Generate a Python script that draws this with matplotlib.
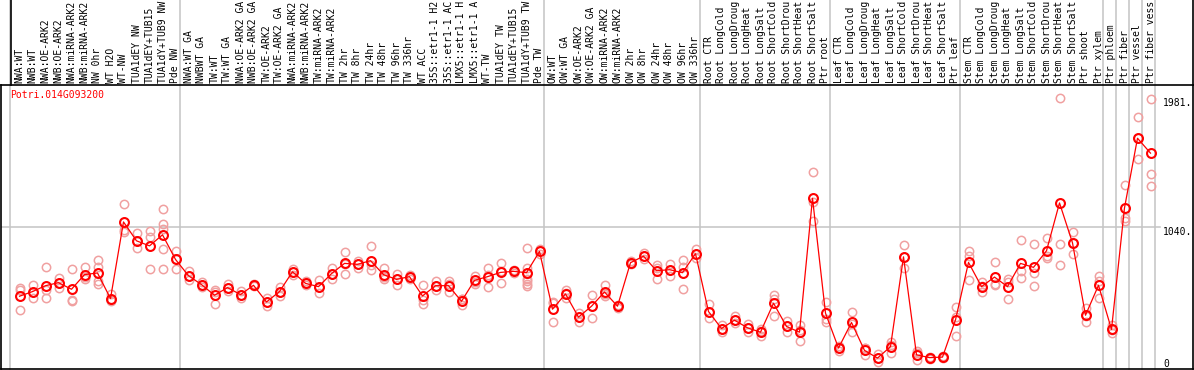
import matplotlib
matplotlib.use('Agg')
import matplotlib.pyplot as plt
import matplotlib.transforms as mtransforms

# Sample names, in plotting order (as far as they show in the label strip)
samples = [
    'NWA:WT', 'NWB:WT', 'NWA:OE-ARK2', 'NWB:OE-ARK2', 'NWA:miRNA-ARK2', 'NWB:miRNA-ARK2',
    'NW 0hr', 'WT H2O', 'WT-NW', 'TUA1dEY NW', 'TUA1dEY+TUB15', 'TUA1dY+TUB9 NW', 'Pde NW',
    'NWA:WT GA', 'NWBWT GA', 'TW:WT', 'TW:WT GA', 'NWA:OE-ARK2 GA', 'NWB:OE-ARK2 GA',
    'TW:OE-ARK2', 'TW:OE-ARK2 GA', 'NWA:miRNA-ARK2', 'NWB:miRNA-ARK2', 'TW:miRNA-ARK2',
    'TW:miRNA-ARK2', 'TW 2hr', 'TW 8hr', 'TW 24hr', 'TW 48hr', 'TW 96hr', 'TW 336hr', 'WT ACC',
    '35S::etr1-1 H2', '35S::etr1-1 AC', 'LMX5::etr1-1 H', 'LMX5::etr1-1 A', 'WT-TW',
    'TUA1dEY TW', 'TUA1dEY+TUB15', 'TUA1dY+TUB9 TW', 'Pde TW',
    'OW:WT', 'OW:WT GA', 'OW:OE-ARK2', 'OW:OE-ARK2 GA', 'OW:miRNA-ARK2', 'OW:miRNA-ARK2',
    'OW 2hr', 'OW 8hr', 'OW 24hr', 'OW 48hr', 'OW 96hr', 'OW 336hr',
    'Root CTR', 'Root LongCold', 'Root LongDroug', 'Root LongHeat', 'Root LongSalt',
    'Root ShortCold', 'Root ShortDrou', 'Root ShortHeat', 'Root ShortSalt', 'Ptr root',
    'Leaf CTR', 'Leaf LongCold', 'Leaf LongDroug', 'Leaf LongHeat', 'Leaf LongSalt',
    'Leaf ShortCold', 'Leaf ShortDrou', 'Leaf ShortHeat', 'Leaf ShortSalt', 'Ptr leaf',
    'Stem CTR', 'Stem LongCold', 'Stem LongDroug', 'Stem LongHeat', 'Stem LongSalt',
    'Stem ShortCold', 'Stem ShortDrou', 'Stem ShortHeat', 'Stem ShortSalt', 'Ptr shoot',
    'Ptr xylem', 'Ptr phloem', 'Ptr fiber', 'Ptr vessel', 'Ptr fiber vess',
]

# Mean expression per sample
means = [
    532, 566, 609, 631, 583, 690, 702, 515, 1075, 937, 900, 981, 801,
    682, 617, 539, 595, 544, 612, 490, 566, 711, 626, 602, 697, 772, 765, 792, 690,
    655, 675, 534, 609, 609, 495, 648, 675, 706, 714, 704, 859,
    437, 549, 379, 459, 563, 459, 777, 825, 718, 726, 704, 843,
    420, 296, 357, 301, 269, 481, 311, 269, 1248, 408,
    153, 340, 136, 80, 163, 820, 104, 83, 87, 359,
    779, 602, 672, 602, 772, 743, 864, 1214, 922, 393,
    612, 289, 1178, 1687, 1578,
]

# Replicate values per sample
replicates = [
    [590, 578, 428], [612, 566, 519], [743, 578, 517], [668, 631, 590], [733, 507, 497],
    [743, 672, 655], [799, 743, 645, 624], [551, 507, 497], [1207, 1015, 1003],
    [996, 937, 886], [1012, 964, 733], [1170, 1063, 1027, 879, 733], [864, 801, 733],
    [716, 682, 651], [636, 617, 597], [578, 560, 478], [621, 595, 570], [570, 544, 517],
    [619, 612, 605], [522, 490, 460], [597, 566, 534], [733, 711, 689], [640, 626, 612],
    [648, 602, 558], [736, 697, 660], [857, 765, 695], [789, 770, 736], [901, 757, 723],
    [740, 675, 655], [694, 657, 614], [690, 675, 660], [617, 507, 478], [641, 610, 575],
    [641, 623, 563], [510, 510, 466], [682, 638, 624], [740, 686, 599], [774, 713, 631],
    [723, 720, 699], [886, 736, 700, 660, 640, 620, 607], [880, 859, 838],
    [490, 480, 340], [575, 553, 519], [413, 379, 345], [539, 462, 376], [612, 545, 532],
    [470, 459, 448], [790, 777, 764], [848, 825, 801], [760, 740, 655], [770, 726, 682],
    [794, 743, 588], [879, 843, 813],
    [473, 420, 376], [320, 296, 272], [388, 357, 335], [330, 301, 274], [289, 275, 243],
    [541, 511, 391], [352, 314, 267], [320, 285, 202], [1439, 1220, 1085], [493, 369, 347],
    [170, 156, 133], [420, 331, 269], [153, 151, 104], [109, 78, 53], [194, 175, 119],
    [903, 820, 737], [129, 115, 68], [90, 83, 76], [95, 87, 79], [456, 381, 240],
    [864, 825, 648], [636, 604, 566], [779, 625, 612], [655, 636, 510], [940, 716, 668],
    [915, 699, 609], [961, 825, 813], [1979, 915, 757], [1005, 920, 842], [444, 390, 347],
    [677, 641, 517], [323, 285, 260], [1347, 1107, 1080], [1840, 1687, 1535],
    [1974, 1425, 1338],
]

# last sample index of each block (separator drawn right after it)
group_ends = [12, 40, 52, 62, 72, 83, 84, 85, 86, 87]

y_ticks = [0, 1040, 1981]
y_tick_labels = ['0', '1040.', '1981.']
gene = 'Potri.014G093200'

W, H = 1194, 370
FONT = 'DejaVu Sans Mono'
FS = 7.0

fig = plt.figure(figsize=(W / 100, H / 100), dpi=100)
# plot box: x 1..1193, y 85..369 (pixels from top)
ax = fig.add_axes([1 / W, 1 / H, 1192 / W, 284 / H])

n = len(samples)
xs = list(range(n))
step = 13.0
xmin = -18.5 / step
ax.set_xlim(xmin, xmin + 1192 / step)
top_val = y_ticks[-1] * 284 / 271
ax.set_ylim(0, top_val)

for sp in ax.spines.values():
    sp.set_color('black')
    sp.set_linewidth(1.2)
ax.set_xticks([])
ax.set_yticks([])

# grey separators, running up through the label area
ext = 369 / 284
sep_x = [-0.7] + [g + 0.35 for g in group_ends]
for sx in sep_x:
    ax.axvline(sx, ymin=0, ymax=ext, color='#c4c4c4', lw=1.1, clip_on=False, zorder=1)

# black frame of the label strip
fig.add_artist(plt.Line2D([10.5 / W, 10.5 / W], [285 / H, 1], color='black', lw=1.2))
fig.add_artist(plt.Line2D([1192.5 / W, 1192.5 / W], [285 / H, 1], color='black', lw=1.2))

# horizontal reference line
ax.axhline(y_ticks[1], xmin=0, xmax=(1160 - 1) / 1192, color='#c4c4c4', lw=1.1, zorder=1)

# replicate points
for i, reps in enumerate(replicates):
    ax.plot([i] * len(reps), reps, linestyle='none', marker='o', ms=6.0,
            mfc='none', mec='#f0a0a0', mew=1.1, zorder=2)

# mean line
ax.plot(xs, means, color='red', lw=0.9, zorder=3)
ax.plot(xs, means, linestyle='none', marker='o', ms=6.4, mfc='none',
        mec='red', mew=1.5, zorder=4)

# sample labels (rotated, above the box)
lab_tr = mtransforms.blended_transform_factory(ax.transData, ax.transAxes)
for i, name in enumerate(samples):
    ax.text(i, 1.0 + 2 / 284, name, transform=lab_tr, rotation=90,
            ha='center', va='bottom', fontsize=FS, family=FONT, clip_on=False)

# value labels on the right
val_tr = mtransforms.blended_transform_factory(ax.transAxes, ax.transData)
for v, s in zip(y_ticks, y_tick_labels):
    va = 'bottom' if v == 0 else 'top'
    ax.text((1163 - 1) / 1192, v, s, transform=val_tr, ha='left', va=va,
            fontsize=FS, family=FONT)

ax.text(9 / 1192, 1 - 5 / 284, gene, transform=ax.transAxes, ha='left', va='top',
        color='red', fontsize=FS, family=FONT)

fig.savefig('out.png', dpi=100)
